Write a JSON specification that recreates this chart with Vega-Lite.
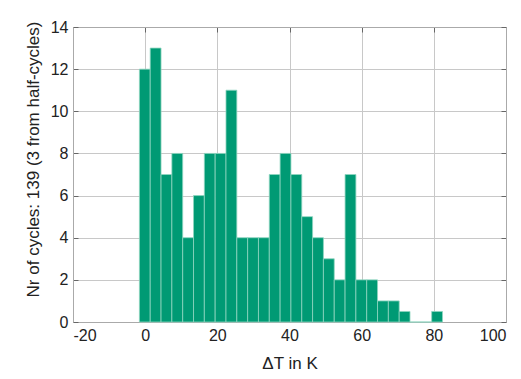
{
  "$schema": "https://vega.github.io/schema/vega-lite/v6.json",
  "width": 433,
  "height": 295,
  "autosize": {"type": "none"},
  "padding": {"left": 73, "top": 27, "right": 15, "bottom": 57},
  "background": "white",
  "config": {
    "view": {"stroke": "#aaaaaa", "strokeWidth": 1},
    "font": "Liberation Sans",
    "axis": {
      "labelFont": "Liberation Sans",
      "titleFont": "Liberation Sans",
      "labelFontSize": 16,
      "titleFontSize": 17,
      "labelColor": "#222222",
      "titleColor": "#222222",
      "titleFontWeight": "normal",
      "gridColor": "#c8c8c8",
      "gridWidth": 1,
      "domainColor": "#aaaaaa",
      "tickColor": "#666666",
      "tickSize": -5,
      "labelPadding": 10
    }
  },
  "data": {
    "values": [
      {"x": -1.6, "x2": 1.4, "n": 12},
      {"x": 1.4, "x2": 4.4, "n": 13},
      {"x": 4.4, "x2": 7.4, "n": 7},
      {"x": 7.4, "x2": 10.4, "n": 8},
      {"x": 10.4, "x2": 13.4, "n": 4},
      {"x": 13.4, "x2": 16.4, "n": 6},
      {"x": 16.4, "x2": 19.4, "n": 8},
      {"x": 19.4, "x2": 22.4, "n": 8},
      {"x": 22.4, "x2": 25.4, "n": 11},
      {"x": 25.4, "x2": 28.4, "n": 4},
      {"x": 28.4, "x2": 31.4, "n": 4},
      {"x": 31.4, "x2": 34.4, "n": 4},
      {"x": 34.4, "x2": 37.4, "n": 7},
      {"x": 37.4, "x2": 40.4, "n": 8},
      {"x": 40.4, "x2": 43.4, "n": 7},
      {"x": 43.4, "x2": 46.4, "n": 5},
      {"x": 46.4, "x2": 49.4, "n": 4},
      {"x": 49.4, "x2": 52.4, "n": 3},
      {"x": 52.4, "x2": 55.4, "n": 2},
      {"x": 55.4, "x2": 58.4, "n": 7},
      {"x": 58.4, "x2": 61.4, "n": 2},
      {"x": 61.4, "x2": 64.4, "n": 2},
      {"x": 64.4, "x2": 67.4, "n": 1},
      {"x": 67.4, "x2": 70.4, "n": 1},
      {"x": 70.4, "x2": 73.4, "n": 0.5},
      {"x": 73.4, "x2": 76.4, "n": 0},
      {"x": 76.4, "x2": 79.4, "n": 0},
      {"x": 79.4, "x2": 82.4, "n": 0.5}
    ]
  },
  "layer": [
    {
      "mark": {"type": "rect", "color": "#009a74", "stroke": "#8fd6c0", "strokeWidth": 0.8},
      "encoding": {
        "x": {
          "field": "x",
          "type": "quantitative",
          "scale": {"domain": [-20, 100], "nice": false, "zero": false},
          "axis": {"values": [-20, 0, 20, 40, 60, 80, 100], "title": "ΔT in K", "titlePadding": 12,
                   "labelExpr": "replace(datum.label, '−', '-')"}
        },
        "x2": {"field": "x2"},
        "y": {
          "field": "n",
          "type": "quantitative",
          "scale": {"domain": [0, 14], "nice": false},
          "axis": {"values": [0, 2, 4, 6, 8, 10, 12, 14], "title": "Nr of cycles: 139 (3 from half-cycles)", "titlePadding": 8, "titleY": 132}
        },
        "y2": {"datum": 0}
      }
    },
    {
      "mark": {"type": "point", "opacity": 0},
      "encoding": {
        "x": {
          "field": "x",
          "type": "quantitative",
          "scale": {"domain": [-20, 100], "nice": false, "zero": false},
          "axis": {"orient": "top", "values": [-20, 0, 20, 40, 60, 80, 100], "labels": false, "grid": false, "title": null}
        },
        "y": {
          "field": "n",
          "type": "quantitative",
          "scale": {"domain": [0, 14], "nice": false},
          "axis": {"orient": "right", "values": [0, 2, 4, 6, 8, 10, 12, 14], "labels": false, "grid": false, "title": null}
        }
      }
    }
  ],
  "resolve": {"scale": {"x": "independent", "y": "independent"}, "axis": {"x": "independent", "y": "independent"}}
}
